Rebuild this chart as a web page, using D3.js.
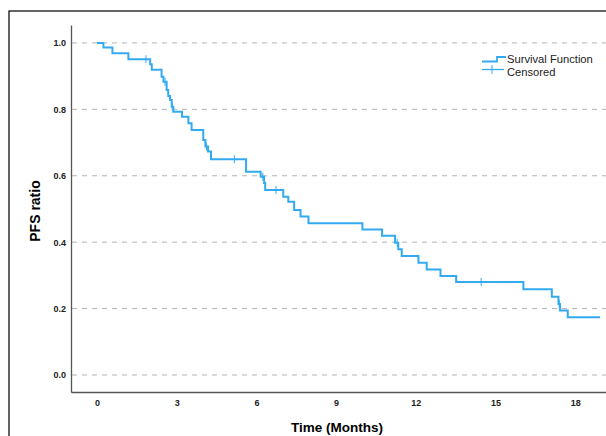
<!DOCTYPE html>
<html>
<head>
<meta charset="utf-8">
<script src="https://cdn.jsdelivr.net/npm/d3@7"></script>
<style>
  body { margin: 0; background: #fff; }
  svg { display: block; font-family: "Liberation Sans", Arial, sans-serif; }
</style>
</head>
<body>
<div id="chart"></div>
<script>
// Kaplan-Meier steps
var stepTimes = [0, 0.24, 0.58, 1.18, 2.00, 2.06, 2.43, 2.50, 2.62, 2.68, 2.75, 2.81, 2.87, 3.20, 3.44, 3.56,
                 4.00, 4.08, 4.18, 4.29, 5.61, 6.16, 6.29, 6.33, 7.01, 7.20, 7.42, 7.66, 7.96, 9.99,
                 10.73, 11.22, 11.34, 11.47, 12.10, 12.41, 12.93, 13.52, 16.05, 17.12, 17.37, 17.43, 17.72];
var stepSurv  = [1.0, 0.986, 0.969, 0.951, 0.936, 0.919, 0.898, 0.883, 0.858, 0.840, 0.828, 0.808, 0.793, 0.778, 0.758, 0.738,
                 0.708, 0.688, 0.673, 0.650, 0.612, 0.597, 0.578, 0.557, 0.537, 0.522, 0.497, 0.477, 0.457, 0.438,
                 0.419, 0.398, 0.379, 0.358, 0.338, 0.318, 0.298, 0.280, 0.258, 0.236, 0.214, 0.194, 0.174];
var lastTime = 18.94;
var censorTimes = [1.84, 2.56, 2.83, 4.12, 5.17, 6.24, 6.74, 11.30, 14.46, 17.40];

var xTicks = [0, 3, 6, 9, 12, 15, 18];
var yTicks = [0.0, 0.2, 0.4, 0.6, 0.8, 1.0];

var W = 606, H = 436;
var blue = "#33aaf0";

var svg = d3.select("#chart").append("svg")
  .attr("width", W).attr("height", H);

// outer frame
svg.append("rect")
  .attr("x", 9).attr("y", 11).attr("width", W).attr("height", H)
  .attr("fill", "none").attr("stroke", "#111").attr("stroke-width", 1.3);

var x = d3.scaleLinear().domain([-0.98, 19.16]).range([71, 606]);
var y = d3.scaleLinear().domain([-0.0512, 1.054]).range([392, 25]);

// dashed grid
svg.append("g").selectAll("line")
  .data(yTicks).enter().append("line")
  .attr("x1", 72).attr("x2", W)
  .attr("y1", function(d) { return y(d); })
  .attr("y2", function(d) { return y(d); })
  .attr("stroke", "#b3b3b3")
  .attr("stroke-width", 1)
  .attr("stroke-dasharray", "5,5");

// axes
var yAxis = svg.append("g")
  .attr("transform", "translate(71,0)")
  .call(d3.axisLeft(y).tickValues(yTicks).tickSize(0).tickPadding(5).tickFormat(d3.format(".1f")));
var xAxis = svg.append("g")
  .attr("transform", "translate(0,392)")
  .call(d3.axisBottom(x).tickValues(xTicks).tickSize(0).tickPadding(8));

[xAxis, yAxis].forEach(function(a) {
  a.select(".domain").attr("stroke", "#555").attr("stroke-width", 1.3);
  a.selectAll("text").attr("font-size", 9).attr("font-weight", "bold")
    .attr("fill", "#222").attr("font-family", "Liberation Sans, Arial, sans-serif");
});

// axis titles
svg.append("text")
  .attr("x", 337).attr("y", 432)
  .attr("text-anchor", "middle")
  .attr("font-size", 13.5).attr("font-weight", "bold")
  .text("Time (Months)");
svg.append("text")
  .attr("transform", "translate(40,211) rotate(-90)")
  .attr("text-anchor", "middle")
  .attr("font-size", 14).attr("font-weight", "bold")
  .text("PFS ratio");

// survival curve
var pts = stepTimes.map(function(t, i) { return [t, stepSurv[i]]; });
pts.push([lastTime, stepSurv[stepSurv.length - 1]]);
var line = d3.line()
  .x(function(d) { return x(d[0]); })
  .y(function(d) { return y(d[1]); })
  .curve(d3.curveStepAfter);
svg.append("path")
  .datum(pts)
  .attr("d", line)
  .attr("fill", "none")
  .attr("stroke", blue)
  .attr("stroke-width", 2);

// censor marks
function survAt(t) {
  var s = 1;
  for (var i = 0; i < stepTimes.length; i++) if (stepTimes[i] <= t) s = stepSurv[i];
  return s;
}
svg.append("g").selectAll("line")
  .data(censorTimes).enter().append("line")
  .attr("x1", function(d) { return x(d); })
  .attr("x2", function(d) { return x(d); })
  .attr("y1", function(d) { return y(survAt(d)) - 4; })
  .attr("y2", function(d) { return y(survAt(d)) + 4; })
  .attr("stroke", blue).attr("stroke-width", 1);

// legend
var lg = svg.append("g").attr("transform", "translate(482,0)");
lg.append("path")
  .attr("d", "M0,61.5 H15 V57 H24")
  .attr("fill", "none").attr("stroke", blue).attr("stroke-width", 1.8);
lg.append("line").attr("x1", 0).attr("x2", 22).attr("y1", 69.5).attr("y2", 69.5)
  .attr("stroke", blue).attr("stroke-width", 1.3);
lg.append("line").attr("x1", 10).attr("x2", 10).attr("y1", 65).attr("y2", 74)
  .attr("stroke", blue).attr("stroke-width", 1);
lg.append("text").attr("x", 25).attr("y", 63).attr("font-size", 11.2).attr("fill", "#222")
  .text("Survival Function");
lg.append("text").attr("x", 25).attr("y", 75.5).attr("font-size", 11.2).attr("fill", "#222")
  .text("Censored");
</script>
</body>
</html>
